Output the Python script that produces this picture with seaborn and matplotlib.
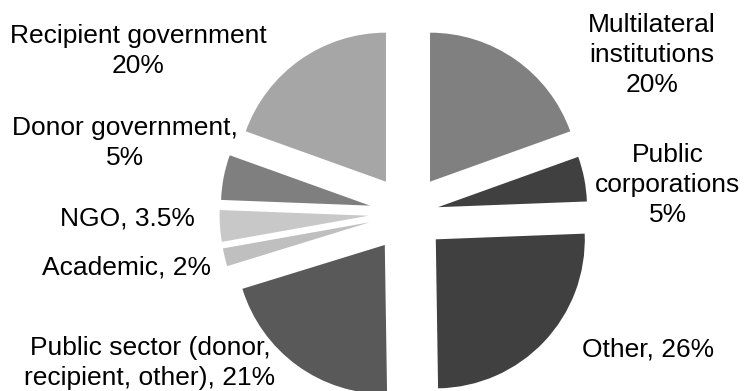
import matplotlib
matplotlib.use("Agg")
import matplotlib.pyplot as plt
import seaborn as sns

# Share of partnerships by type of partner (as reported, clockwise from 12 o'clock)
categories = [
    "Multilateral institutions",
    "Public corporations",
    "Other",
    "Public sector (donor, recipient, other)",
    "Academic",
    "NGO",
    "Donor government",
    "Recipient government",
]
shares = [20, 5, 26, 21, 2, 3.5, 5, 20]
label_texts = [
    "Multilateral\ninstitutions\n20%",
    "Public\ncorporations\n5%",
    "Other, 26%",
    "Public sector (donor,\nrecipient, other), 21%",
    "Academic, 2%",
    "NGO, 3.5%",
    "Donor government,\n5%",
    "Recipient government\n20%",
]

greys = ["#808080", "#404040", "#404040", "#595959",
         "#bfbfbf", "#c8c8c8", "#7f7f7f", "#a6a6a6"]
explode = [0.257, 0.205, 0.257, 0.265, 0.265, 0.265, 0.26, 0.257]

# label anchor points in figure pixels (x from left, y from top)
label_pos = [(652, 55), (668, 185), (648, 350), (150, 363),
             (127, 267), (127, 218), (125, 143), (138, 51)]

sns.set_theme(style="white")
plt.rcParams["font.family"] = ["Liberation Sans", "DejaVu Sans"]

W, H = 745, 391
fig = plt.figure(figsize=(W / 100, H / 100), dpi=100)
ax = fig.add_axes([0, 0, 1, 1])

ax.pie(shares, colors=greys, explode=explode, startangle=90,
       counterclock=False, radius=1.0,
       wedgeprops=dict(linewidth=0, edgecolor="none"))

# pie centre at (408, 213) px, radius 149 px
cx, cy, r = 408, 213, 149
ax.set_xlim(-cx / r, (W - cx) / r)
ax.set_ylim(-(H - cy) / r, cy / r)
ax.set_aspect("auto")
ax.axis("off")

for txt, (px, py) in zip(label_texts, label_pos):
    fig.text(px / W, 1 - py / H, txt, ha="center", va="center",
             multialignment="center", fontsize=19, linespacing=1.3,
             color="#000000")

fig.savefig("out.png", dpi=100, facecolor="white")
